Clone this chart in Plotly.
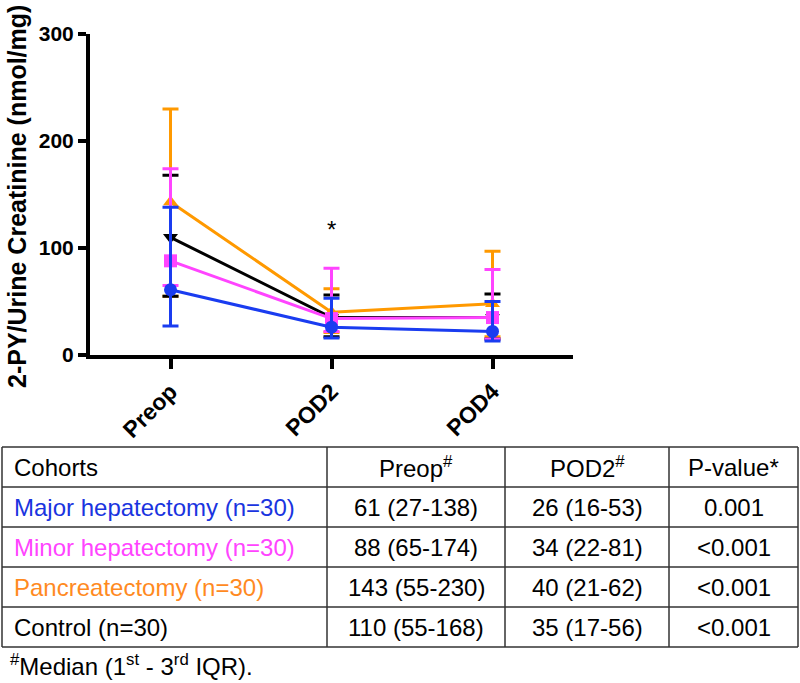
import plotly.graph_objects as go

timepoints = ["Preop", "POD2", "POD4"]

series_names = ["Pancreatectomy", "Control", "Minor hepatectomy", "Major hepatectomy"]
series_colors = ["#FF9900", "#000000", "#FF44FF", "#1A3CF0"]
series_symbols = ["triangle-up", "triangle-down", "square", "circle"]

pancreas_med = [143, 40, 48]
pancreas_q1 = [55, 21, 17]
pancreas_q3 = [230, 62, 97]

control_med = [110, 35, 35]
control_q1 = [55, 17, 15]
control_q3 = [168, 56, 57]

minor_med = [88, 34, 35]
minor_q1 = [65, 22, 15]
minor_q3 = [174, 81, 80]

major_med = [61, 26, 22]
major_q1 = [27, 16, 13]
major_q3 = [138, 53, 50]

y_ticks = [0, 100, 200, 300]
y_title = "2-PY/Urine Creatinine (nmol/mg)"
star_label = "*"
star_value = 117

table_header = ["Cohorts", "Preop<sup>#</sup>", "POD2<sup>#</sup>", "P-value*"]
table_cohorts = ["Major hepatectomy (n=30)", "Minor hepatectomy (n=30)",
                 "Pancreatectomy (n=30)", "Control (n=30)"]
table_cohort_colors = ["#1A34E0", "#FF44FF", "#FF8A1F", "#000000"]
table_preop = ["61 (27-138)", "88 (65-174)", "143 (55-230)", "110 (55-168)"]
table_pod2 = ["26 (16-53)", "34 (22-81)", "40 (21-62)", "35 (17-56)"]
table_p = ["0.001", "<0.001", "<0.001", "<0.001"]
footnote = "<sup>#</sup>Median (1<sup>st</sup> - 3<sup>rd</sup> IQR)."

W, H = 800, 683
FONT = "Liberation Sans"

def px(x):
    return x / W

def py(y):
    return 1 - y / H

fig = go.Figure()

all_data = [
    (pancreas_med, pancreas_q1, pancreas_q3),
    (control_med, control_q1, control_q3),
    (minor_med, minor_q1, minor_q3),
    (major_med, major_q1, major_q3),
]

for name, color, sym, (med, q1, q3) in zip(series_names, series_colors, series_symbols, all_data):
    fig.add_trace(go.Scatter(
        x=timepoints, y=med, name=name, mode="lines+markers",
        line=dict(color=color, width=3),
        marker=dict(color=color, symbol=sym, size=13),
        error_y=dict(type="data", symmetric=False,
                     array=[b - a for a, b in zip(med, q3)],
                     arrayminus=[a - b for a, b in zip(med, q1)],
                     color=color, thickness=3, width=8),
        showlegend=False,
    ))

fig.add_annotation(x="POD2", y=star_value, xref="x", yref="y", text=star_label,
                   showarrow=False, font=dict(family=FONT, size=24, color="black"))

fig.update_layout(
    width=W, height=H,
    margin=dict(l=0, r=0, t=0, b=0),
    paper_bgcolor="white", plot_bgcolor="white",
    font=dict(family=FONT, color="black"),
    xaxis=dict(
        domain=[px(90), px(573)], range=[-0.5, 2.5],
        showline=True, linecolor="black", linewidth=4,
        ticks="outside", ticklen=10, tickwidth=4, tickcolor="black",
        tickangle=-45, showgrid=False, zeroline=False, automargin=False,
        tickfont=dict(family=FONT, size=23, color="black", weight="bold"),
        anchor="y",
    ),
    yaxis=dict(
        domain=[py(355), py(34)], range=[0, 300],
        tickvals=y_ticks,
        showline=True, linecolor="black", linewidth=4,
        ticks="outside", ticklen=8, tickwidth=4, tickcolor="black",
        showgrid=False, zeroline=False, automargin=False,
        tickfont=dict(family=FONT, size=21, color="black", weight="bold"),
        anchor="x",
    ),
)

fig.add_annotation(x=px(17), y=py(197), xref="paper", yref="paper", text=y_title,
                   textangle=-90, showarrow=False, xanchor="center", yanchor="middle",
                   font=dict(family=FONT, size=25, color="black", weight="bold"))

# Table drawn with shapes and annotations
col_x = [2, 327, 505, 669, 798]
row_y = [447, 487, 527, 567, 607, 647]
for x in col_x:
    fig.add_shape(type="line", xref="paper", yref="paper",
                  x0=px(x), x1=px(x), y0=py(row_y[0]), y1=py(row_y[-1]),
                  line=dict(color="#333333", width=1.5))
for y in row_y:
    fig.add_shape(type="line", xref="paper", yref="paper",
                  x0=px(col_x[0]), x1=px(col_x[-1]), y0=py(y), y1=py(y),
                  line=dict(color="#333333", width=1.5))

rows = [list(table_header)]
colors = ["#000000"]
for i in range(4):
    rows.append([table_cohorts[i], table_preop[i], table_pod2[i], table_p[i]])
    colors.append(table_cohort_colors[i])

tfont = 24
for r, row in enumerate(rows):
    yc = (row_y[r] + row_y[r + 1]) / 2
    for c, txt in enumerate(row):
        if c == 0:
            fig.add_annotation(x=px(col_x[0] + 10), y=py(yc), xref="paper", yref="paper",
                               text=txt, showarrow=False, xanchor="left", yanchor="middle",
                               font=dict(family=FONT, size=tfont, color=colors[r]))
        else:
            fig.add_annotation(x=px((col_x[c] + col_x[c + 1]) / 2), y=py(yc),
                               xref="paper", yref="paper", text=txt, showarrow=False,
                               xanchor="center", yanchor="middle",
                               font=dict(family=FONT, size=tfont, color="#000000"))

fig.add_annotation(x=px(8), y=py(665), xref="paper", yref="paper", text=footnote,
                   showarrow=False, xanchor="left", yanchor="middle",
                   font=dict(family=FONT, size=tfont, color="#000000"))

fig.write_html("out.html", config={"displayModeBar": False},
               post_script="document.body.style.margin='0';")
